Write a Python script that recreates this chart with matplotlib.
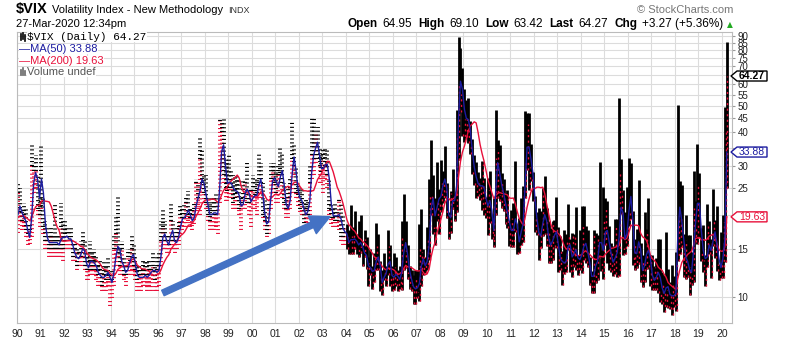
import numpy as np
import matplotlib
matplotlib.use("Agg")
import matplotlib.pyplot as plt
from matplotlib.patches import Polygon
from matplotlib.lines import Line2D
from matplotlib.ticker import FixedLocator, NullLocator

plt.rcParams['font.family'] = ['Liberation Sans', 'DejaVu Sans']
plt.rcParams['lines.scale_dashes'] = False

# monthly VIX values, Jan 1990 .. Mar 2020
vix_high = [
    26, 25, 21, 22, 21, 18.5, 18.5, 36.5, 31, 33, 28, 23,            # 1990
    36, 23, 19, 18, 17, 18, 17, 22, 17, 17, 22, 19,                  # 1991
    19, 18, 17.5, 18, 16, 16, 15, 15, 16, 17.5, 16, 14,              # 1992
    14.5, 16, 14.5, 15, 14, 13, 13.5, 12.5, 13.5, 13, 14, 12,        # 1993
    12.5, 17, 20, 23.6, 15, 16, 14, 13, 15, 15, 17, 15.5,            # 1994
    14, 13, 13, 12.5, 13.5, 13.5, 13.5, 13.5, 13, 14.5, 13, 14,      # 1995
    14.5, 19, 21, 19, 17, 17, 22, 19, 17, 18, 19, 21.5,              # 1996
    21, 22, 23, 24.5, 21, 21, 22, 27, 26, 38, 35, 28,                # 1997
    28, 23, 22, 23, 23, 24, 22, 45, 44, 45.7, 32, 31,                # 1998
    33, 29, 28, 28, 28, 27, 23, 27, 27, 31, 24, 25,                  # 1999
    28, 27, 27, 34, 31, 26, 23, 20, 22, 31, 31, 31,                  # 2000
    29, 30, 35, 34, 26, 23, 25, 27, 43.7, 36, 30, 26,                # 2001
    25, 25, 22, 23, 22.5, 30, 45, 45, 40, 42, 35, 33,                # 2002
    35, 35, 35, 27, 22, 21, 22, 21, 23, 22, 20, 18,                  # 2003
    18.5, 17.5, 21.6, 18, 20.6, 17, 19, 20, 15.5, 17.5, 16.5, 14,    # 2004
    15, 13, 14.5, 18.6, 17, 13.5, 12.5, 14.5, 13, 17.5, 15.5, 13,    # 2005
    14.5, 14, 12.5, 13, 19, 23.8, 19, 15.5, 13, 12.5, 12, 12.5,      # 2006
    12.5, 18.5, 21, 15, 14, 18, 27, 37.5, 28, 23, 31.1, 24.8,        # 2007
    31.6, 29, 35.6, 26, 20.5, 24.5, 29.3, 24, 48.4, 89.5, 81.5, 68.6,  # 2008
    57.4, 52.6, 53.2, 44, 37.8, 33, 31.2, 28.7, 27.2, 31.4, 27.2, 23.2,  # 2009
    27.3, 28.8, 19.7, 23, 48.2, 37.6, 36.1, 28.4, 27, 24, 24.6, 19,  # 2010
    20.8, 22.1, 31.3, 17.9, 19.5, 23, 25.4, 48, 46.9, 46.9, 36.3, 28.6,  # 2011
    23.3, 20.4, 21.1, 20.6, 25.1, 27.7, 21.2, 18.9, 17.9, 19, 19.1, 23.2,  # 2012
    18, 16.7, 14.7, 17.6, 17, 21.9, 16.3, 17.1, 17, 21.3, 14.2, 17.5,  # 2013
    21.5, 21.5, 18.2, 17.6, 14, 12.4, 17.6, 17.1, 16.8, 31.1, 14.9, 25.2,  # 2014
    23, 22.5, 18.1, 15.8, 15.3, 19.3, 19.2, 53.3, 31.9, 24.7, 20.4, 25.3,  # 2015
    32.1, 30.9, 20.7, 16.3, 17.7, 26.7, 15.8, 14.2, 20.5, 17.7, 23, 14.2,  # 2016
    14.2, 13, 13.9, 16.3, 16.3, 12.3, 12, 17.3, 12.7, 11.3, 13.1, 11.9,  # 2017
    14.6, 50.3, 26.6, 25.7, 17, 20, 16.9, 16.9, 14.6, 28.8, 22.5, 36.2,  # 2018
    28.5, 17.8, 18.4, 14.2, 21.9, 18.9, 16.3, 24.8, 19.1, 21.5, 13.2, 17.3,  # 2019
    19.99, 49.5, 85.5,                                               # 2020
]

vix_low = [
    17.2, 19, 17.5, 18, 16.5, 15.5, 15.6, 16.5, 24, 25, 20, 18,      # 1990
    21, 17, 15, 15, 14, 14, 14, 14, 14, 14, 14, 13.5,                # 1991
    15, 15, 15, 15, 13.5, 13.5, 12.5, 13, 13, 14, 12.5, 11.5,        # 1992
    11.5, 12, 12, 12, 11.5, 11, 11, 10.5, 10.5, 10.5, 11, 9.3,       # 1993
    9.9, 11, 13, 14, 12, 12, 11.5, 11, 12, 12, 12.5, 12,             # 1994
    11.5, 10.5, 10.5, 10.5, 11, 11, 10.5, 11, 10.5, 11.5, 10.5, 10.5,  # 1995
    11, 13, 15, 15, 14.5, 14.5, 15, 15, 14.5, 15, 15.5, 17,          # 1996
    17.5, 18, 18, 19, 18, 17.5, 18.5, 20, 21, 20, 24, 22,            # 1997
    21, 19, 17.5, 17.5, 17.5, 18, 17, 22, 29, 26, 22.5, 22.5,        # 1998
    23, 23, 21, 21, 21, 20, 17.5, 21, 21, 22, 20, 18,                # 1999
    21, 21, 20, 23, 23, 19.5, 17.5, 16.5, 17, 21, 24, 24,            # 2000
    22, 22, 26, 23, 21, 19.5, 19.5, 21, 24, 28, 23, 21.5,            # 2001
    20.5, 20, 17.5, 17.5, 18, 20, 27, 28, 31, 32, 26, 26,            # 2002
    24, 27, 25, 20, 18.5, 18, 18, 18, 17.5, 16, 15.5, 15.5,          # 2003
    15, 14.3, 14.3, 14.3, 15, 14.3, 14, 14.5, 13, 14, 12.7, 11,      # 2004
    12, 10.7, 11.3, 12.5, 12.5, 10.5, 10.2, 11.5, 11, 12, 11, 10.5,  # 2005
    10.6, 11, 10.5, 10.7, 10.6, 12.5, 12.8, 11.6, 10.7, 10.5, 9.4, 9.4,  # 2006
    9.9, 9.7, 11, 12, 12.2, 12.6, 13.6, 20, 17, 15.5, 19, 17,        # 2007
    20.5, 22, 23, 19.5, 16.3, 17.2, 21, 19, 20.5, 31.7, 47.6, 38.7,  # 2008
    37, 38.4, 36.7, 33.3, 28.1, 25.7, 23.1, 23.3, 22.7, 20.8, 20, 19.5,  # 2009
    16.9, 18.6, 16.3, 15.2, 19.9, 23, 22.5, 21.1, 20.6, 18.5, 17.8, 15.4,  # 2010
    15.2, 15.2, 17.3, 14.3, 14.5, 15.5, 15.9, 23, 29.2, 24.6, 26.6, 22.5,  # 2011
    17.3, 16.8, 13.7, 15.1, 16.7, 17, 15.3, 13.3, 13.3, 13.7, 15.2, 15.1,  # 2012
    12.3, 12.5, 11.05, 12.1, 12.3, 14.9, 12.3, 11.8, 12.9, 12.5, 12, 12.6,  # 2013
    12.2, 13.6, 13.3, 12.9, 11.1, 10.3, 10.3, 11.2, 11.5, 13.9, 12.4, 11.6,  # 2014
    15.5, 13.3, 12.5, 12.3, 11.9, 12.1, 11.8, 11.9, 20.1, 14.2, 14.3, 15.3,  # 2015
    18.1, 19.2, 13.1, 12.5, 12.8, 13.2, 11.3, 10.9, 11.3, 12.7, 12.9, 11,  # 2016
    10.6, 10.6, 10.6, 10.3, 9.6, 9.4, 8.8, 9.2, 9.1, 9.0, 8.56, 9.2,  # 2017
    8.9, 13.5, 14.4, 15.2, 11.8, 11.6, 11.8, 10.2, 11.1, 11.3, 15.9, 15.6,  # 2018
    16.6, 13.5, 12.3, 11.0, 12.9, 14.3, 11.7, 15.3, 13.9, 12.4, 11.5, 11.7,  # 2019
    11.75, 13.4, 25,                                                 # 2020
]

vix_close = [
    24, 20.5, 19, 20, 17.5, 17, 17.5, 30, 29, 29, 21, 20,            # 1990
    21.5, 18, 16, 16, 15, 16.5, 15, 15, 15, 15, 18, 15,              # 1991
    17, 16, 16, 16, 14, 15, 13, 14.5, 14, 15.5, 13, 12.5,            # 1992
    12.5, 13.5, 12.5, 13.5, 12.5, 12, 12.5, 11, 12, 11.5, 12, 11.5,  # 1993
    11.5, 15, 17, 14.5, 13, 15, 12, 12, 14, 13.5, 15, 13,            # 1994
    12.5, 11.5, 12, 12, 12.5, 12, 12, 12.5, 12.5, 13, 11.5, 12.5,    # 1995
    13, 16, 18, 16, 16, 15.5, 19, 16, 16, 16.5, 18, 20,              # 1996
    19.5, 19.5, 22, 20, 19.5, 20, 21, 26, 23, 32, 26, 24,            # 1997
    22, 20, 19, 20, 20, 20, 22, 44, 40, 28, 25, 24.5,                # 1998
    25, 25, 22, 23, 24, 21, 22, 23, 26, 22, 22, 24.5,                # 1999
    24.5, 23.5, 24, 26, 26, 20, 19, 17, 21, 27, 29, 26,              # 2000
    24, 28, 28.5, 26, 22, 21, 23, 25, 32, 30, 24, 23.5,              # 2001
    21, 22, 18, 21, 20, 26, 33, 32, 40, 32, 30, 28.6,                # 2002
    32, 30, 28, 21, 19.5, 19.5, 19, 19, 22.5, 16.5, 16.5, 18,        # 2003
    16.6, 14.5, 16.7, 17, 15.5, 14.3, 15.3, 15.3, 13.3, 16.3, 13.2, 13.3,  # 2004
    12.8, 12, 14, 15.3, 13.3, 12, 11.6, 12.6, 11.9, 15.3, 12, 12.1,  # 2005
    12.9, 12.3, 11.4, 11.6, 16.4, 13, 14.9, 12.3, 12, 11.1, 10.9, 11.6,  # 2006
    10.4, 15.4, 14.6, 14.2, 13.05, 16.2, 23.5, 23.4, 18, 18.5, 22.9, 22.5,  # 2007
    26.2, 26.5, 25.6, 20.8, 17.8, 23.95, 22.9, 20.65, 39.4, 59.9, 55.3, 40,  # 2008
    44.8, 46.35, 44.1, 36.5, 28.9, 26.35, 25.9, 26, 25.6, 30.7, 24.5, 21.7,  # 2009
    24.6, 19.5, 17.6, 22, 32.1, 34.5, 23.5, 26, 23.7, 21.2, 23.5, 17.75,  # 2010
    19.5, 18.35, 17.7, 14.75, 15.45, 16.5, 25.25, 31.6, 42.96, 29.96, 27.8, 23.4,  # 2011
    19.4, 18.4, 15.5, 17.15, 24.1, 17.1, 18.9, 17.5, 15.7, 18.6, 15.9, 18,  # 2012
    14.3, 15.5, 12.7, 13.5, 16.3, 16.9, 13.45, 17, 16.6, 13.75, 13.7, 13.7,  # 2013
    18.4, 14, 13.9, 13.4, 11.4, 11.6, 17, 12.1, 16.3, 14, 13.3, 19.2,  # 2014
    20.97, 13.3, 15.3, 14.55, 13.8, 18.2, 12.1, 28.4, 24.5, 15.1, 16.1, 18.2,  # 2015
    20.2, 20.55, 13.95, 15.7, 14.2, 15.6, 12, 13.4, 13.3, 17.1, 13.3, 14,  # 2016
    11.99, 12.9, 12.4, 10.8, 10.4, 11.2, 10.3, 10.6, 9.5, 10.2, 11.3, 11.04,  # 2017
    13.5, 19.85, 19.97, 15.9, 15.4, 16.1, 12.8, 12.9, 12.1, 21.2, 18.1, 25.4,  # 2018
    16.6, 14.8, 13.7, 13.1, 18.7, 15.1, 16.1, 18.98, 16.2, 13.2, 12.6, 13.8,  # 2019
    18.8, 40.1, 64.27,                                               # 2020
]

ma50 = [
    20, 21.5, 20.5, 19.5, 19, 17.5, 16.5, 19.5, 26, 28.5, 27, 23,
    27, 24, 18.5, 16.5, 15.8, 15.8, 15.8, 15.8, 15.8, 15.5, 16.3, 16.5,
    16.5, 16.7, 16.3, 16.3, 15.5, 14.5, 14, 13.8, 14.2, 15, 14.8, 13.3,
    12.8, 13.5, 13.5, 13.3, 13, 12.3, 12, 11.8, 11.8, 12, 12.3, 11.8,
    11.3, 12.3, 14, 15.3, 15, 13.5, 13, 12.3, 12.5, 13.3, 14, 14.3,
    13.2, 12, 11.8, 11.8, 11.8, 12, 11.8, 12, 12.3, 12.5, 12.5, 12.3,
    12.5, 14, 16.5, 17, 16, 15.5, 16.8, 17.5, 16, 15.8, 16.5, 18,
    19.3, 19.5, 20, 20.8, 20, 19, 19.5, 21.5, 23, 24.5, 27, 26,
    23.8, 21.8, 20, 20, 20.3, 20.3, 20, 25, 34, 36, 30, 26,
    26.3, 26, 25, 24.5, 24.3, 23.5, 21.5, 21.8, 23.8, 24.8, 24, 22.3,
    23, 23.5, 23.5, 25.5, 27, 24, 20.3, 18.5, 18.8, 22.5, 26.5, 27.3,
    26.3, 25.3, 27.5, 29, 25.5, 21.8, 21, 22.5, 28, 32.5, 29, 24.8,
    23, 22.5, 21, 20, 20.5, 22.3, 28.5, 33, 35, 36.8, 33, 29.5,
    29.5, 30.5, 30.5, 27, 22, 19.8, 19.8, 19.8, 20, 19.3, 17.8, 17.3,
    17, 15.8, 16.2, 16.2, 16.3, 16, 15.5, 15.8, 15.3, 14.5, 14.2, 13,
    12.8, 12.4, 12.5, 13.5, 14, 13, 11.3, 11.8, 12.2, 13.2, 13.5, 12,
    11.8, 12.1, 11.9, 11.6, 12.3, 14.5, 15.8, 14.3, 12.5, 11.6, 10.9, 10.7,
    10.8, 11.2, 13, 13.8, 13, 13.5, 15.5, 21, 23, 19.8, 21.2, 22.8,
    23.3, 25.5, 27, 25, 20, 19.5, 22.5, 22.5, 25.5, 45, 61.5, 57.5,
    48.5, 45, 44.5, 41, 34.5, 30, 27.5, 26, 25.5, 25.5, 25.3, 23,
    21.5, 22.5, 20.8, 17.5, 24.5, 31, 28.5, 25.8, 24, 22, 20.3, 18.8,
    17.5, 17.5, 19.3, 18.4, 15.9, 17.3, 18.5, 25.8, 35.3, 35.3, 32, 28.3,
    23, 19.5, 17.2, 16.7, 18.5, 20, 19, 16.5, 15.5, 16, 16.8, 17.3,
    15.5, 13.8, 13.5, 13.3, 13.5, 15.3, 15.5, 14, 14.4, 14.9, 13.9, 13.7,
    14.3, 15.3, 15.7, 14.6, 13.4, 11.9, 11.9, 13, 13.5, 15.8, 15.8, 14.8,
    17.3, 17.5, 15.8, 14.3, 13.4, 13.9, 14.5, 16.5, 21.3, 20.3, 16.3, 17,
    20.5, 23.3, 19.3, 14.5, 14.4, 15.9, 15, 12.5, 13, 14.3, 14.8, 13.8,
    12, 11.5, 11.8, 12.3, 11.8, 10.8, 10.3, 10.8, 10.9, 10.2, 10.1, 10.1,
    10.3, 16.8, 21.3, 19, 16.3, 14, 13.5, 12.6, 12.3, 14.7, 18.5, 22,
    22, 17.5, 14.8, 13.8, 14, 15.5, 14.8, 16, 17.3, 15.5, 13.8, 12.8,
    13.8, 16.3, 33.88,
]

ma200 = [
    19.5, 19.8, 19.8, 19.8, 19.6, 19.3, 19.0, 19.6, 20.5, 21.35, 21.65, 21.55,
    22.45, 22.5, 22.4, 22.35, 22.25, 21.45, 20.2, 18.9, 18.05, 17.5, 16.4, 16.0,
    16.0, 16.05, 16.1, 16.15, 16.05, 15.9, 15.7, 15.55, 15.3, 15.25, 14.95, 14.55,
    14.25, 14.0, 13.85, 13.75, 13.65, 13.45, 13.2, 12.8, 12.6, 12.55, 12.5, 12.2,
    12.0, 11.95, 12.2, 12.6, 12.75, 12.95, 13.0, 13.0, 13.05, 13.3, 13.65, 13.75,
    13.5, 13.05, 12.9, 12.7, 12.65, 12.65, 12.5, 12.4, 12.15, 12.05, 12.0, 12.1,
    12.15, 12.55, 13.1, 13.55, 13.95, 14.25, 14.9, 15.25, 15.6, 15.95, 16.4, 16.75,
    16.95, 17.25, 17.75, 18.3, 18.35, 18.6, 19.05, 19.75, 20.35, 21.05, 21.9, 22.4,
    22.65, 22.6, 22.65, 22.8, 22.8, 22.55, 22.2, 22.6, 23.6, 24.55, 24.85, 25.4,
    26.1, 26.6, 27.05, 27.45, 27.9, 27.2, 25.4, 24.35, 24.15, 24.1, 23.7, 23.35,
    23.25, 23.15, 23.1, 23.6, 24.25, 24.05, 23.55, 22.8, 22.5, 22.9, 23.25, 23.65,
    23.8, 23.55, 23.9, 24.55, 24.95, 25.2, 25.4, 25.15, 25.75, 26.2, 26.3, 26.1,
    25.35, 24.8, 24.45, 24.45, 24.35, 24.4, 24.4, 24.5, 25.6, 26.9, 27.6, 28.3,
    29.35, 30.4, 31.35, 31.3, 30.0, 28.65, 26.95, 25.25, 24.35, 23.2, 21.95, 20.55,
    19.15, 18.35, 18.05, 17.65, 17.4, 16.95, 16.45, 16.3, 15.95, 15.75, 15.5, 15.2,
    14.8, 14.45, 14.0, 13.9, 13.75, 13.25, 12.95, 12.7, 12.55, 12.75, 12.7, 12.65,
    12.55, 12.35, 12.1, 12.15, 12.35, 12.7, 13.05, 12.9, 12.85, 12.8, 12.65, 12.5,
    12.45, 12.45, 12.6, 12.3, 12.05, 12.15, 12.65, 14.0, 15.05, 15.85, 17.15, 18.15,
    19.2, 20.5, 22.0, 22.8, 22.9, 22.5, 22.8, 23.05, 23.65, 27.5, 31.3, 33.9,
    35.6, 37.9, 40.5, 42.2, 42.9, 43.7, 43.3, 39.9, 36.1, 33.5, 31.45, 29.1,
    26.85, 25.4, 24.1, 22.9, 23.5, 23.9, 24.1, 23.95, 23.85, 23.75, 23.6, 23.0,
    22.95, 23.0, 21.9, 20.5, 19.4, 18.8, 18.3, 19.5, 21.3, 22.8, 24.2, 25.0,
    24.9, 25.2, 25.2, 25.1, 25.2, 23.9, 21.9, 20.2, 18.6, 17.7, 17.4, 17.3,
    17.05, 16.7, 16.05, 15.35, 14.95, 15.1, 14.95, 14.7, 14.5, 14.2, 14.15, 14.2,
    14.3, 14.6, 14.75, 14.5, 14.3, 14.05, 13.8, 13.7, 13.75, 14.1, 14.05, 14.0,
    14.35, 14.6, 14.8, 15.05, 15.1, 15.2, 15.3, 15.4, 16.4, 16.5, 16.2, 16.4,
    17.2, 18.2, 18.35, 18.3, 18.3, 18.2, 17.1, 16.6, 16.4, 16.1, 15.3, 14.2,
    13.8, 13.6, 13.3, 12.85, 12.65, 12.5, 12.1, 11.8, 11.3, 11.1, 10.95, 10.8,
    10.65, 11.7, 12.55, 13.35, 13.75, 14.0, 14.3, 14.5, 14.7, 15.4, 16.35, 16.45,
    16.5, 16.15, 16.2, 16.1, 16.3, 16.7, 16.8, 16.95, 16.55, 15.65, 14.9, 14.7,
    14.7, 15.2, 19.63,
]

years = list(range(1990, 2021))
y_ticks = [10, 15, 20, 25, 30, 35, 40, 45, 50, 55, 60, 65, 70, 75, 80, 85, 90]
# 20, 35 and 65 sit under the price tags, so they carry no label
y_labels = ['10', '15', '', '25', '30', '', '40', '45', '50', '55', '60', '',
            '70', '75', '80', '85', '90']

RED = '#e8103a'
BLUE = '#1c1ca0'
GRID = '#dcdcdc'
W, H = 785, 355

hi = np.array(vix_high)
lo = np.array(vix_low)
cl = np.array(vix_close)
n = len(cl)
x = 1990 + (np.arange(n) + 0.5) / 12
split = (2004 - 1990) * 12   # before this StockCharts only has closes -> dashes


def fpx(px, py_top):
    return px / W, 1 - py_top / H


fig = plt.figure(figsize=(W / 100, H / 100), dpi=100)
ax = fig.add_axes([17 / W, 1 - 323 / H, 715 / W, 291 / H])
ax.set_yscale('log')
ax.set_xlim(1990.0, 2020.43)
ax.set_ylim(8.03, 93.1)

ax.set_xticks(years)
ax.set_xticklabels([f'{y % 100:02d}' for y in years])
ax.yaxis.set_major_locator(FixedLocator(y_ticks))
ax.yaxis.set_minor_locator(NullLocator())
ax.set_yticklabels(y_labels)
ax.yaxis.tick_right()
ax.tick_params(axis='x', length=0, pad=4, labelsize=7.5, labelcolor='#222222')
ax.tick_params(axis='y', length=2.5, pad=1.5, labelsize=7, labelcolor='#222222',
               color='#999999')
ax.grid(True, color=GRID, lw=0.8)
ax.set_axisbelow(True)
for s in ax.spines.values():
    s.set_color('#bbbbbb')
    s.set_linewidth(0.8)

# close-only era: short horizontal ticks
ax.vlines(x[:split], lo[:split], cl[:split], colors=RED, lw=2.8,
          linestyles=(0, (0.8, 2.0)))
ax.vlines(x[:split], cl[:split], hi[:split], colors='black', lw=2.8,
          linestyles=(0, (0.8, 2.0)))

# high/low bars
ax.vlines(x[split:], lo[split:], hi[split:], colors='black', lw=2.0)
ax.vlines(x[split:] + 0.03, lo[split:], cl[split:], colors=RED, lw=1.0,
          linestyles=(0, (1.5, 2.5)))

ax.plot(x, ma200, color=RED, lw=1.0)
ax.plot(x, ma50, color=BLUE, lw=1.0)

# blue arrow annotation
ax.annotate('', xy=(2003.32, 19.65), xytext=(1996.21, 10.34),
            arrowprops=dict(arrowstyle='simple,head_length=14,head_width=14,tail_width=4.3',
                            mutation_scale=1, color='#4472c4', shrinkA=0, shrinkB=0),
            zorder=6)


# price tags on the right axis
def price_tag(value, label, color, weight='normal'):
    yd = ax.transData.transform((2000, value))[1]
    xr = ax.transAxes.transform((1, 0))[0]
    pts = [(xr - 1, yd), (xr + 5, yd + 5), (xr + 35, yd + 5),
           (xr + 35, yd - 5), (xr + 5, yd - 5)]
    fpts = fig.transFigure.inverted().transform(pts)
    fig.add_artist(Polygon(fpts, closed=True, transform=fig.transFigure,
                           fc='white', ec=color, lw=1.0, zorder=5))
    tx, ty = fig.transFigure.inverted().transform((xr + 20, yd))
    fig.text(tx, ty, label, color=color, fontsize=7.5, fontweight=weight,
             ha='center', va='center', zorder=6)


price_tag(vix_close[-1], f'{vix_close[-1]:.2f}', 'black', 'bold')
price_tag(ma50[-1], f'{ma50[-1]:.2f}', BLUE)
price_tag(ma200[-1], f'{ma200[-1]:.2f}', RED)

# legend block inside the chart
bb = dict(fc='white', ec='none', pad=0.3)
fig.text(*fpx(27, 37), f'$VIX (Daily) {vix_close[-1]:.2f}', family='Liberation Mono',
         fontsize=8, va='center', bbox=bb)
for dx, (a, b) in zip([20.5, 22.5, 24.5], [(34, 40), (33, 39), (35, 41)]):
    fig.add_artist(Line2D([dx / W, dx / W], [1 - a / H, 1 - b / H], color='black',
                          lw=1.2, transform=fig.transFigure))
fig.text(*fpx(19, 49), f'\u2014MA(50) {ma50[-1]:.2f}', color=BLUE, fontsize=8,
         va='center', bbox=bb)
fig.text(*fpx(19, 61), f'\u2014MA(200) {ma200[-1]:.2f}', color=RED, fontsize=8,
         va='center', bbox=bb)
fig.text(*fpx(27, 72), 'Volume undef', color='#555555', fontsize=8, va='center', bbox=bb)
for dx, a in zip([20.5, 22.5, 24.5], [70, 68, 71]):
    fig.add_artist(Line2D([dx / W, dx / W], [1 - a / H, 1 - 75 / H], color='#666666',
                          lw=1.2, transform=fig.transFigure))

# header
t = fig.text(*fpx(16, 13), '$VIX', fontsize=10.5, fontweight='bold', va='baseline')
t = ax.annotate('Volatility Index - New Methodology', xy=(1, 355 - 13),
                xycoords=(t, 'figure pixels'), xytext=(3, 0), textcoords='offset points',
                fontsize=8, va='baseline', annotation_clip=False)
ax.annotate('INDX', xy=(1, 355 - 13), xycoords=(t, 'figure pixels'), xytext=(4, 0),
            textcoords='offset points', fontsize=6.5, va='baseline', color='#333333',
            annotation_clip=False)
fig.text(*fpx(16, 27), '27-Mar-2020 12:34pm', fontsize=8, va='baseline')
fig.text(*fpx(733, 13), '\u00a9 StockCharts.com', fontsize=8, color='#777777',
         ha='right', va='baseline')

quote = [('Open', 'bold', 3), ('64.95', 'normal', 5), ('High', 'bold', 3),
         ('69.10', 'normal', 5), ('Low', 'bold', 3), ('63.42', 'normal', 5),
         ('Last', 'bold', 3), ('64.27', 'normal', 5), ('Chg', 'bold', 3),
         ('+3.27 (+5.36%)', 'normal', 3)]
prev = fig.text(*fpx(733, 27), '\u25b2', fontsize=5.5, color='#22aa22', ha='right',
                va='baseline', family='DejaVu Sans')
for word, weight, gap in reversed(quote):
    prev = ax.annotate(word, xy=(0, 355 - 27), xycoords=(prev, 'figure pixels'),
                       xytext=(-gap, 0), textcoords='offset points', fontsize=8.5,
                       fontweight=weight, ha='right', va='baseline',
                       annotation_clip=False)

fig.savefig('out.png', dpi=100)
